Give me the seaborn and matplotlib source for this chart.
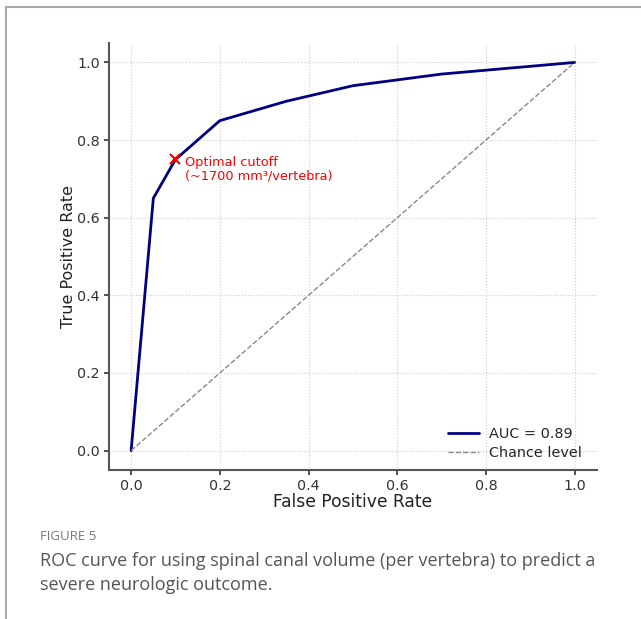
import matplotlib
matplotlib.use('Agg')
import matplotlib.pyplot as plt
import seaborn as sns
import pandas as pd
from matplotlib.lines import Line2D

# data
fpr = [0.0, 0.05, 0.1, 0.2, 0.35, 0.5, 0.7, 1.0]
tpr = [0.0, 0.65, 0.75, 0.85, 0.90, 0.94, 0.97, 1.0]
chance = [0.0, 1.0]
cutoff_fpr = 0.1
cutoff_tpr = 0.75
ticks = [0.0, 0.2, 0.4, 0.6, 0.8, 1.0]

sns.set_style('ticks')
plt.rcParams['font.family'] = ['DejaVu Sans']

roc_df = pd.DataFrame({'fpr': fpr, 'tpr': tpr})
chance_df = pd.DataFrame({'x': chance, 'y': chance})

fig = plt.figure(figsize=(6.41, 6.19), dpi=100)
ax = fig.add_axes([0.170, 0.2407, 0.761, 0.6898])

sns.lineplot(data=roc_df, x='fpr', y='tpr', color='navy', linewidth=2,
             ax=ax, label='AUC = 0.89')
sns.lineplot(data=chance_df, x='x', y='y', color='#888888', linestyle='--',
             linewidth=1, ax=ax, label='Chance level')
ax.plot(cutoff_fpr, cutoff_tpr, marker='x', color='red', markersize=7,
        markeredgewidth=1.6, linestyle='none')
ax.text(cutoff_fpr + 0.022, cutoff_tpr + 0.008, 'Optimal cutoff\n(~1700 mm³/vertebra)',
        color='red', fontsize=9.3, va='top', ha='left', linespacing=1.0)

ax.set_xlim(-0.05, 1.05)
ax.set_ylim(-0.05, 1.05)
ax.set_xticks(ticks)
ax.set_yticks(ticks)
ax.set_xlabel('False Positive Rate', fontsize=12.3, color='#222222', labelpad=0)
ax.set_ylabel('True Positive Rate', fontsize=11.5, color='#222222', labelpad=1)
ax.tick_params(labelsize=10.3, colors='#333333', length=3.5, width=1.2, pad=3)
ax.grid(True, linestyle=':', color='#cccccc', linewidth=0.8)
for side in ['top', 'right']:
    ax.spines[side].set_visible(False)
for side in ['left', 'bottom']:
    ax.spines[side].set_color('#555555')
    ax.spines[side].set_linewidth(1.5)

handles = [Line2D([], [], color='navy', linewidth=2),
           Line2D([], [], color='#888888', linestyle='--', linewidth=1)]
ax.legend(handles, ['AUC = 0.89', 'Chance level'], loc='lower right',
          bbox_to_anchor=(0.991, 0.0),
          frameon=False, fontsize=10.4, handlelength=2.2, handletextpad=0.7,
          borderaxespad=0.3, labelspacing=0.35)

# page frame and caption
fig.add_artist(Line2D([6 / 641, 1], [1 - 7 / 619, 1 - 7 / 619],
                      color='#aaaaaa', linewidth=1.5, transform=fig.transFigure))
fig.add_artist(Line2D([6 / 641, 6 / 641], [0, 1 - 7 / 619],
                      color='#aaaaaa', linewidth=1.5, transform=fig.transFigure))
fig.text(40 / 641, 1 - 537 / 619, 'FIGURE 5', fontsize=9.5, color='#777777',
         family=['Open Sans', 'DejaVu Sans'], va='center')
fig.text(40 / 641, 1 - 573 / 619,
         'ROC curve for using spinal canal volume (per vertebra) to predict a\n'
         'severe neurologic outcome.',
         fontsize=13, color='#555555', family=['Open Sans', 'DejaVu Sans'],
         va='center', linespacing=1.45)

fig.savefig('out.png', dpi=100)
